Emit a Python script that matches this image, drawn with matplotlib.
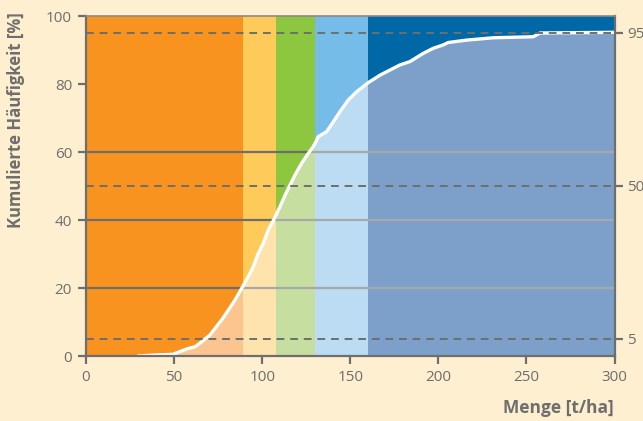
import matplotlib
matplotlib.use("Agg")
import matplotlib.pyplot as plt
from matplotlib.patches import Polygon

# ---- data ----
band_edges = [0, 89, 108, 130, 160, 300]
band_colors = ["#F7931E", "#FECB5B", "#8DC63F", "#75BDE8", "#0068A6"]
band_light = ["#FCC58F", "#FEE3AC", "#C6DFA0", "#BBDCF3", "#7DA0CA"]

curve_x = [30, 40, 49.4, 53.3, 58, 61.9, 65.7, 70.4, 73.2, 77, 80.8, 84.6, 88.4,
           93.1, 95, 97.8, 100.6, 103.5, 106.3, 110.1, 113.9, 118.6, 122.4,
           126.2, 129, 130.5, 131.8, 136.6, 140.4, 144.2, 148.9, 153.6, 160.2,
           166.9, 174.4, 178.2, 183.9, 191.4, 197.1, 202.8, 205.6, 216, 231.2,
           253.9, 257.7, 300]
curve_y = [0, 0.3, 0.5, 1.3, 2.2, 2.7, 4.2, 6.2, 8.1, 10.6, 13.5, 16.5, 19.9,
           24.3, 26.3, 30.2, 33.1, 37.1, 39.8, 43.9, 48.3, 53.2, 56.7,
           59.6, 61.6, 63.0, 64.5, 66.0, 68.9, 71.9, 75.3, 77.7, 80.4,
           82.6, 84.6, 85.6, 86.6, 89.0, 90.5, 91.5, 92.2, 92.9, 93.6,
           93.9, 95.0, 95.2]

grid_levels = [20, 40, 60]
dash_levels = [5, 50, 95]
yticks = [0, 20, 40, 60, 80, 100]
xticks = [0, 50, 100, 150, 200, 250, 300]

bg = "#FEEFD0"
gray = "#6E6E6E"
plt.rcParams["font.family"] = ["Open Sans", "DejaVu Sans"]

fig = plt.figure(figsize=(6.43, 4.21), dpi=100, facecolor=bg)
ax = fig.add_axes([86 / 643, 1 - 356 / 421, (614.5 - 86) / 643, (356 - 16) / 421])
ax.set_xlim(0, 300)
ax.set_ylim(0, 100)

# strong bands
for i, c in enumerate(band_colors):
    ax.axvspan(band_edges[i], band_edges[i + 1], color=c, lw=0, zorder=0)

# dark grid lines
for g in grid_levels:
    ax.axhline(g, color=gray, lw=1.6, zorder=1)

# polygon under the curve
verts = [(curve_x[0], 0)] + list(zip(curve_x, curve_y)) + [(300, 0)]
poly = Polygon(verts, closed=True, transform=ax.transData, facecolor="none",
               edgecolor="none")
ax.add_patch(poly)

for i, c in enumerate(band_light):
    sp = ax.axvspan(band_edges[i], band_edges[i + 1], color=c, lw=0, zorder=2)
    sp.set_clip_path(poly)

for g in grid_levels:
    ln = ax.axhline(g, color="#A8A8A8", lw=1.6, zorder=3)
    ln.set_clip_path(poly)

# curve
ax.plot(curve_x, curve_y, color="white", lw=2.4, zorder=4, solid_joinstyle="round")

# dashed lines
for d in dash_levels:
    ax.axhline(d, color=gray, lw=1.4, ls=(0, (4, 3)), zorder=5)

# spines
for s in ["left", "bottom", "right"]:
    ax.spines[s].set_color(gray)
    ax.spines[s].set_linewidth(1.6)
ax.spines["top"].set_color("#8A8A8A")
ax.spines["top"].set_linewidth(1.2)
for s in ax.spines.values():
    s.set_zorder(6)

ax.set_xticks(xticks)
ax.set_yticks(yticks)
ax.tick_params(axis="both", direction="out", length=6, width=1.6, color=gray,
               labelcolor=gray, labelsize=11, pad=4)

# right axis ticks
ax2 = ax.twinx()
ax2.set_ylim(0, 100)
ax2.set_yticks(dash_levels)
ax2.tick_params(axis="y", direction="out", length=6, width=1.6, color=gray,
                labelcolor=gray, labelsize=11, pad=3)
for s in ax2.spines.values():
    s.set_visible(False)

fig.text(16 / 643, 1 - 120 / 421, "Kumulierte Häufigkeit [%]", rotation=90,
         ha="center", va="center", fontsize=12, fontweight="bold", color=gray)
fig.text(614 / 643, 1 - 408 / 421, "Menge [t/ha]", ha="right", va="center",
         fontsize=12.5, fontweight="bold", color=gray)

fig.savefig("out.png", dpi=100, facecolor=bg)
